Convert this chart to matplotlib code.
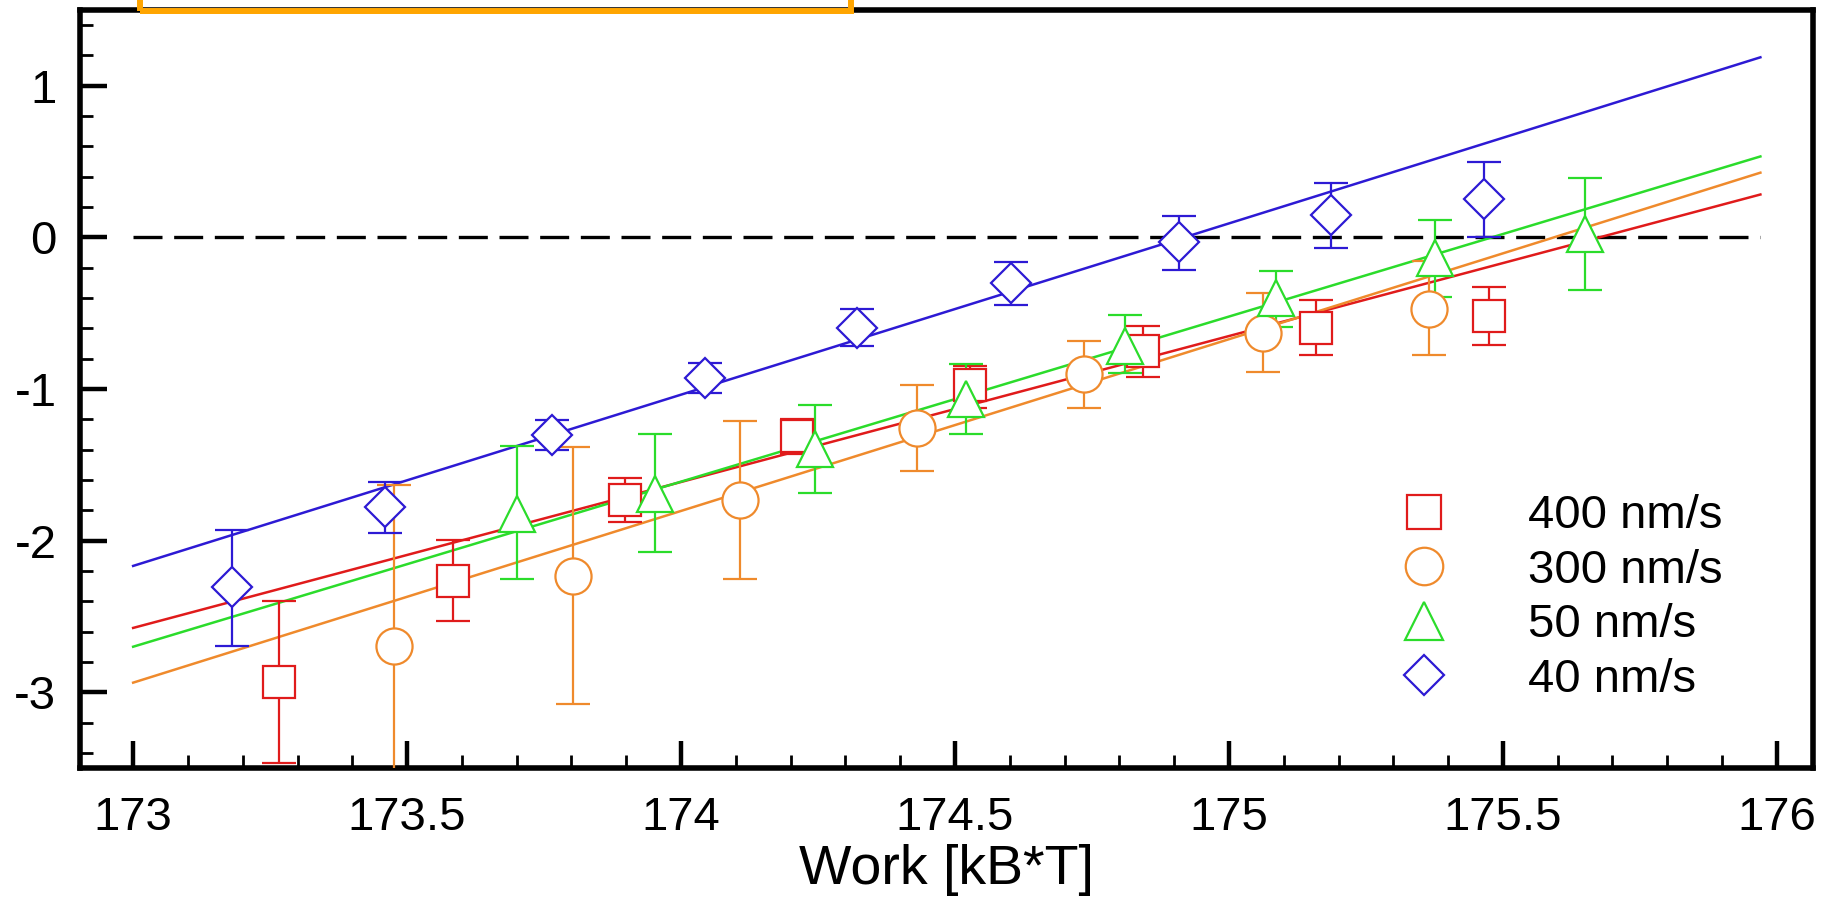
import matplotlib
matplotlib.use('Agg')
import numpy as np
import matplotlib.pyplot as plt
from matplotlib.lines import Line2D
from matplotlib.patches import Rectangle
from matplotlib.ticker import MultipleLocator, FormatStrFormatter

plt.rcParams['font.family'] = ['Liberation Sans', 'DejaVu Sans']
plt.rcParams['axes.unicode_minus'] = False

# 400 nm/s
red_x = [173.267, 173.583, 173.898, 174.212, 174.528, 174.844, 175.158, 175.474]
red_y = [-2.933, -2.265, -1.735, -1.309, -0.974, -0.749, -0.595, -0.519]
red_hi = [-2.397, -1.998, -1.587, -1.199, -0.849, -0.584, -0.411, -0.324]
red_lo = [-3.47, -2.532, -1.880, -1.427, -1.127, -0.919, -0.777, -0.711]

# 300 nm/s
orange_x = [173.477, 173.803, 174.107, 174.430, 174.736, 175.062, 175.365]
orange_y = [-2.692, -2.232, -1.733, -1.257, -0.904, -0.629, -0.471]
orange_hi = [-1.635, -1.385, -1.210, -0.976, -0.685, -0.366, -0.153]
orange_lo = [-3.70, -3.079, -2.254, -1.538, -1.123, -0.886, -0.777]

# 50 nm/s
green_x = [173.700, 173.953, 174.245, 174.520, 174.811, 175.085, 175.377, 175.650]
green_y = [-1.822, -1.694, -1.395, -1.067, -0.714, -0.401, -0.139, 0.024]
green_hi = [-1.379, -1.296, -1.105, -0.832, -0.514, -0.219, 0.114, 0.394]
green_lo = [-2.254, -2.074, -1.685, -1.298, -0.897, -0.591, -0.394, -0.346]

# 40 nm/s
blue_x = [173.180, 173.459, 173.764, 174.044, 174.322, 174.603, 174.908, 175.187, 175.466]
blue_y = [-2.309, -1.779, -1.302, -0.928, -0.595, -0.302, -0.033, 0.146, 0.251]
blue_hi = [-1.932, -1.613, -1.202, -0.828, -0.475, -0.160, 0.144, 0.361, 0.497]
blue_lo = [-2.692, -1.948, -1.400, -1.029, -0.716, -0.449, -0.217, -0.072, 0.005]

# linear fit lines (end points)
fit_x = [173.0, 175.97]
red_fit = [-2.576, 0.283]
orange_fit = [-2.937, 0.427]
green_fit = [-2.70, 0.534]
blue_fit = [-2.167, 1.188]

labels = ['400 nm/s', '300 nm/s', '50 nm/s', '40 nm/s']

RED = '#e01b1b'
ORANGE = '#ef8a2c'
GREEN = '#2bdc2b'
BLUE = '#2d1ad4'

series = [
    (red_x, red_y, red_lo, red_hi, red_fit, RED, 's', 23.5),
    (orange_x, orange_y, orange_lo, orange_hi, orange_fit, ORANGE, 'o', 26),
    (green_x, green_y, green_lo, green_hi, green_fit, GREEN, '^', 26),
    (blue_x, blue_y, blue_lo, blue_hi, blue_fit, BLUE, 'D', 20),
]

fig = plt.figure(figsize=(18.31, 9.01), dpi=100)
ax = fig.add_axes([80 / 1831, 133 / 901, 1733 / 1831, 758 / 901])

ax.plot(fit_x, [0, 0], color='black', lw=2.4, ls=(0, (8.7, 3.5)), zorder=1)

for xs, ys, lo, hi, fit, col, mk, ms in series:
    ax.plot(fit_x, fit, color=col, lw=1.8, zorder=2)

for xs, ys, lo, hi, fit, col, mk, ms in series:
    ys = np.array(ys)
    yerr = [ys - np.array(lo), np.array(hi) - ys]
    ax.errorbar(xs, ys, yerr=yerr, fmt='none', ecolor=col, elinewidth=1.6,
                capsize=12, capthick=1.6, zorder=3)
for xs, ys, lo, hi, fit, col, mk, ms in series:
    ax.plot(xs, ys, ls='none', marker=mk, ms=ms, mfc='white', mec=col,
            mew=1.6, zorder=4)

ax.set_xlim(172.903, 176.066)
ax.set_ylim(-3.5, 1.5)

ax.xaxis.set_major_locator(MultipleLocator(0.5))
ax.xaxis.set_minor_locator(MultipleLocator(0.1))
ax.yaxis.set_major_locator(MultipleLocator(1))
ax.yaxis.set_minor_locator(MultipleLocator(0.2))
ax.xaxis.set_major_formatter(FormatStrFormatter('%g'))
ax.yaxis.set_major_formatter(FormatStrFormatter('%g'))

ax.tick_params(which='both', direction='in', top=False, right=False)
ax.tick_params(which='major', length=19.5, width=3.2, labelsize=34)
ax.tick_params(which='minor', length=9.5, width=2.0)
ax.tick_params(axis='x', which='major', pad=20)
ax.tick_params(axis='y', which='major', pad=17)

for sp in ax.spines.values():
    sp.set_linewidth(4)

ax.set_xlabel('Work [kB*T]', fontsize=40, labelpad=3)

handles = []
for xs, ys, lo, hi, fit, col, mk, ms in series:
    lms = 24 if mk == 's' else (27 if mk != 'D' else 20.5)
    handles.append(Line2D([], [], ls='none', marker=mk, ms=lms, mfc='white',
                          mec=col, mew=1.6))
ax.legend(handles, labels, loc='upper left', bbox_to_anchor=(0.748, 0.361),
          frameon=False, fontsize=34, handlelength=2, handletextpad=1.22,
          labelspacing=0.22, borderpad=0, borderaxespad=0)

fig.add_artist(Rectangle((140 / 1831, (901 - 10.5) / 901), 711 / 1831, 0.1,
                         transform=fig.transFigure, fill=False,
                         edgecolor='#FFA500', lw=4.3, zorder=10, clip_on=False))

fig.savefig('out.png', dpi=100)
